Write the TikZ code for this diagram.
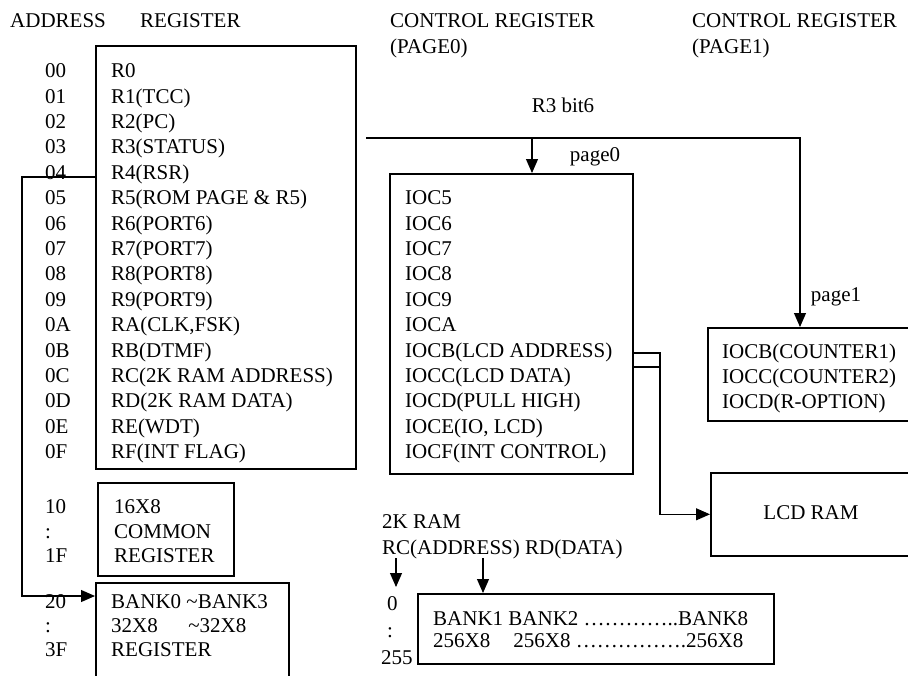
\documentclass[tikz,border=0pt]{standalone}
\usepackage{fontspec}
\setmainfont{Liberation Serif}
\usetikzlibrary{arrows.meta,positioning,calc}
\tikzset{box/.style={draw, line width=1.6pt, rectangle, inner sep=0pt, anchor=north west}, col/.style={anchor=north west, align=left, inner sep=0pt, font=\fontsize{21}{#1}\selectfont}, col/.default=25.4, lab/.style={inner sep=0pt, font=\fontsize{21}{24}\selectfont}, wire/.style={line width=1.1pt}, feed/.style={wire, -{Triangle[length=14pt,width=12pt]}}}

\begin{document}
\begin{tikzpicture}[x=1pt,y=-1pt]
    \clip (0,0) rectangle (908,675);
    \node[col=26] (hAddr) at (10,13.5) {ADDRESS};
    \node[col=26] (hReg) at (140,13.5) {REGISTER};
    \node[col=26] (hPage0) at (390,13.5) {CONTROL REGISTER\\(PAGE0)};
    \node[col=26] (hPage1) at (692,13.5) {CONTROL REGISTER\\(PAGE1)};
    % register file
    \node[box, minimum width=260pt, minimum height=423pt] (regs) at (95,45) {};
    \node[col] (addrRegs) at (45,63.5) {00\\01\\02\\03\\04\\05\\06\\07\\08\\09\\0A\\0B\\0C\\0D\\0E\\0F};
    \node[col] (txtRegs) at (111,63.5) {R0\\R1(TCC)\\R2(PC)\\R3(STATUS)\\R4(RSR)\\R5(ROM PAGE \& R5)\\R6(PORT6)\\R7(PORT7)\\R8(PORT8)\\R9(PORT9)\\RA(CLK,FSK)\\RB(DTMF)\\RC(2K RAM ADDRESS)\\RD(2K RAM DATA)\\RE(WDT)\\RF(INT FLAG)};
    \node[box, minimum width=136pt, minimum height=93pt] (common) at (97,482) {};
    \node[col=24.5] (addrCommon) at (45,499.5) {10\\:\\1F};
    \node[col=24.5] (txtCommon) at (114,499.5) {16X8\\COMMON\\REGISTER};
    \node[box, minimum width=193pt, minimum height=110pt] (bank) at (95,582) {};
    \node[col=24] (addrBank) at (45,594.5) {20\\:\\3F};
    \node[col=24] (txtBank) at (111,594.5) {BANK0 \textasciitilde BANK3\\32X8\hspace{1.45em}\textasciitilde 32X8\\REGISTER};
    % control registers
    \node[box, minimum width=243pt, minimum height=300pt] (ioc) at (389,173) {};
    \node[col] (txtIoc) at (405,190.5) {IOC5\\IOC6\\IOC7\\IOC8\\IOC9\\IOCA\\IOCB(LCD ADDRESS)\\IOCC(LCD DATA)\\IOCD(PULL HIGH)\\IOCE(IO, LCD)\\IOCF(INT CONTROL)};
    \node[box, minimum width=205pt, minimum height=93pt] (cnt) at (707,327) {};
    \node[col=25] (txtCnt) at (722,343.5) {IOCB(COUNTER1)\\IOCC(COUNTER2)\\IOCD(R-OPTION)};
    \node[box, minimum width=202pt, minimum height=83pt] (lcd) at (710,472) {};
    \node[lab] (txtLcd) at (811,513) {LCD RAM};
    % 2K RAM
    \node[col=26] (hRam) at (382,514.5) {2K RAM\\RC(ADDRESS) RD(DATA)};
    \node[box, minimum width=356pt, minimum height=70pt] (ram) at (417,593) {};
    \node[col=22] (txtRam) at (433,611.5) {BANK1 BANK2 …………..BANK8\\256X8\hspace{1.1em}256X8 …………….256X8};
    \node[col=27] (addrRam) at (381,596.5) {\hspace{6pt}0\\\hspace{6pt}:\\255};
    \node[lab] (lblBit) at (563,105) {R3 bit6};
    \node[lab] (lblPage0) at (595,157) {page0};
    \node[lab] (lblPage1) at (836,297) {page1};
    \coordinate (r4) at (22,177);
    \coordinate (b20) at (22,596);
    \coordinate (r3) at (366,138);
    \coordinate (p0) at (532,138);
    \coordinate (p1) at (800,138);
    \coordinate (busA) at (660,353);
    \coordinate (busB) at (660,367);
    \coordinate (ramA) at (396,558);
    \coordinate (ramB) at (483,558);
    \draw[feed] (r4 -| regs.west) -- (r4) -- (b20) -- (b20 -| bank.west);
    \draw[feed] (r3) -- (p1) -- (p1 |- cnt.north);
    \draw[feed] (p0) -- (p0 |- ioc.north);
    \draw[feed] (busA -| ioc.east) -- (busA) -- (busA |- lcd.west) -- (lcd.west);
    \draw[wire] (busB -| ioc.east) -- (busB);
    \draw[feed] (ramA) -- ++(0,29);
    \draw[feed] (ramB) -- (ramB |- ram.north);
\end{tikzpicture}
\end{document}
